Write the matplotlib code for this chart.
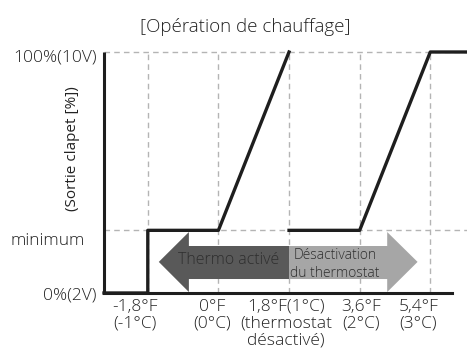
import numpy as np
import matplotlib.pyplot as plt
from matplotlib.patches import Polygon

## data ##
# x in degC offsets, y in % of valve output
x_grid = [-1, 0, 1, 2, 3]
x_labels = ['-1,8°F\n(-1°C)', '0°F\n(0°C)', '1,8°F(1°C)\n(thermostat\ndésactivé)',
            '3,6°F\n(2°C)', '5,4°F\n(3°C)']
y_min_level = 26
y_labels = ['100%(10V)', 'minimum', '0%(2V)']

x_left, x_right, x_base_end = -1.62, 3.52, 3.31

# thermo on curve
on_x = [x_left, -1, -1, 0, 1]
on_y = [0, 0, y_min_level, y_min_level, 100]
# thermo off curve
off_x = [1, 2, 3, x_right]
off_y = [y_min_level, y_min_level, 100, 100]

# label placement (data x for tick text, axes x / data y for left labels)
x_label_pos = [-1.18, -0.09, 0.96, 2.02, 2.83]
y_label_x = [-0.02, -0.053, -0.02]
y_label_base = [95.9, 19.9, -2.5]

plt.rcParams['font.family'] = ['Open Sans', 'DejaVu Sans']
plt.rcParams['font.weight'] = 'light'
txt_col = '#222222'

fig = plt.figure(figsize=(4.67, 3.57), dpi=100)
ax = fig.add_axes([104/467, 64/357, 363/467, 241/357])
ax.set_xlim(x_left, x_right)
ax.set_ylim(0, 100)
for s in ax.spines.values():
    s.set_visible(False)

grid_col = '#b4b4b4'
for xv in x_grid:
    ax.plot([xv, xv], [0, 100], color=grid_col, lw=1, ls=(0, (4, 3)), clip_on=False, zorder=1)
for yv in [y_min_level, 100]:
    ax.plot([x_left, x_right], [yv, yv], color=grid_col, lw=1, ls=(0, (4, 3)), clip_on=False, zorder=1)

# arrows
dark = '#595959'
light = '#a6a6a6'
left_arrow = [(-0.844, 12.9), (-0.418, 25.3), (-0.418, 19.5), (1.0, 19.5),
              (1.0, 5.8), (-0.418, 5.8), (-0.418, 0.4)]
right_arrow = [(1.0, 19.5), (2.39, 19.5), (2.39, 25.3), (2.82, 12.9),
               (2.39, 0.4), (2.39, 5.8), (1.0, 5.8)]
ax.add_patch(Polygon(left_arrow, closed=True, fc=dark, ec='none', zorder=2))
ax.add_patch(Polygon(right_arrow, closed=True, fc=light, ec='none', zorder=2))
ax.text(0.149, 13.7, 'Thermo activé', ha='center', va='center', color='#2e2e2e',
        fontsize=11.5, zorder=3)
ax.text(1.652, 11.8, 'Désactivation\ndu thermostat', ha='center', va='center',
        color='#2e2e2e', fontsize=10, linespacing=1.3, zorder=3)

# axes lines
line_col = '#1e1e1e'
ax.plot([x_left, x_left], [0, 100], color=line_col, lw=2.2, clip_on=False, zorder=4,
        solid_capstyle='butt')
ax.plot([x_left, x_base_end], [0, 0], color=line_col, lw=2.2, clip_on=False, zorder=4)
ax.plot(on_x, on_y, color=line_col, lw=2.4, clip_on=False, zorder=4)
ax.plot(off_x, off_y, color=line_col, lw=2.4, clip_on=False, zorder=4)

ax.set_xticks(x_label_pos)
ax.set_xticklabels(x_labels, fontsize=12.5, color=txt_col, linespacing=1.08)
ax.tick_params(axis='x', length=0, pad=4)
ax.set_yticks([])

ytr = ax.get_yaxis_transform()
for lab, xa, yb in zip(y_labels, y_label_x, y_label_base):
    ax.text(xa, yb, lab, transform=ytr, ha='right', va='baseline',
            fontsize=12.5, color=txt_col, clip_on=False)

ax.set_ylabel('(Sortie clapet [%])', fontsize=11, color=txt_col)
ax.yaxis.set_label_coords(-24/363, 0.6)
fig.text(245/467, 1 - 27/357, '[Opération de chauffage]', ha='center', va='center',
         fontsize=13.5, color=txt_col)

plt.savefig('out.png', dpi=100)
